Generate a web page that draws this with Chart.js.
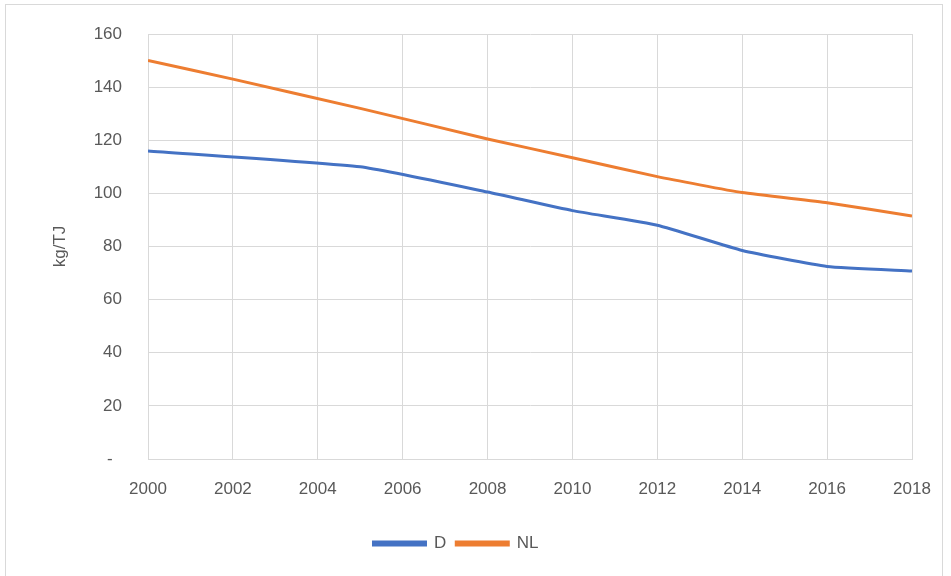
<!DOCTYPE html>
<html>
<head>
<meta charset="utf-8">
<script src="https://cdn.jsdelivr.net/npm/chart.js@4.4.1/dist/chart.umd.min.js"></script>
<style>
  html, body { margin: 0; padding: 0; background: #fff; }
  #wrap { position: relative; width: 951px; height: 576px; }
  #frame { position: absolute; left: 5px; top: 4px; width: 938px; height: 580px; border: 1px solid #d9d9d9; box-sizing: border-box; pointer-events: none; }
  canvas { position: absolute; left: 0; top: 0; }
</style>
</head>
<body>
<div id="wrap">
  <canvas id="chart" width="951" height="576"></canvas>
  <div id="frame"></div>
</div>
<script>
const yearsD = [2000, 2005, 2008, 2010, 2012, 2014, 2016, 2018];
const valuesD = [116, 110, 100.5, 93.5, 88, 78.5, 72.5, 70.8];

const yearsNL = [2000, 2002, 2005, 2008, 2010, 2012, 2014, 2016, 2018];
const valuesNL = [150, 143, 132, 120.5, 113.4, 106.3, 100.3, 96.5, 91.5];

const xTicks = [2000, 2002, 2004, 2006, 2008, 2010, 2012, 2014, 2016, 2018];
const yTicks = [0, 20, 40, 60, 80, 100, 120, 140, 160];

const FONT = 'Liberation Sans';
const TEXT = '#595959';
const GRID = '#d9d9d9';

const toPoints = (xs, ys) => xs.map((x, i) => ({ x: x, y: ys[i] }));

const ctx = document.getElementById('chart').getContext('2d');

new Chart(ctx, {
  type: 'line',
  data: {
    datasets: [
      {
        label: 'D',
        data: toPoints(yearsD, valuesD),
        borderColor: '#4472C4',
        backgroundColor: '#4472C4',
        borderWidth: 3,
        pointRadius: 0,
        tension: 0.15,
      },
      {
        label: 'NL',
        data: toPoints(yearsNL, valuesNL),
        borderColor: '#ED7D31',
        backgroundColor: '#ED7D31',
        borderWidth: 3,
        pointRadius: 0,
        tension: 0.15,
      },
    ],
  },
  options: {
    responsive: false,
    animation: false,
    layout: { padding: { left: 0, top: 34, right: 39, bottom: 14 } },
    scales: {
      x: {
        type: 'linear',
        min: 2000,
        max: 2018,
        afterBuildTicks: (scale) => { scale.ticks = xTicks.map(v => ({ value: v })); },
        afterFit: (scale) => { scale.height = 66; scale.paddingLeft = 0; scale.paddingRight = 0; },
        ticks: {
          padding: 20,
          color: TEXT,
          font: { family: FONT, size: 17 },
          callback: (v) => String(v),
        },
        grid: { color: GRID, lineWidth: 1, drawTicks: false },
        border: { color: GRID },
      },
      y: {
        min: 0,
        max: 160,
        afterBuildTicks: (scale) => { scale.ticks = yTicks.map(v => ({ value: v })); },
        afterFit: (scale) => { scale.width = 148; scale.paddingTop = 0; scale.paddingBottom = 0; },
        ticks: {
          padding: 26,
          color: TEXT,
          font: { family: FONT, size: 17 },
          callback: (v) => (v === 0 ? '-  ' : String(v)),
        },
        title: {
          display: true,
          text: 'kg/TJ',
          color: TEXT,
          font: { family: FONT, size: 17 },
          padding: { top: 50, bottom: 0 },
        },
        grid: { color: GRID, lineWidth: 1, drawTicks: false },
        border: { color: GRID },
      },
    },
    plugins: {
      legend: {
        position: 'bottom',
        labels: {
          boxWidth: 52,
          boxHeight: 3,
          padding: 10,
          color: TEXT,
          font: { family: FONT, size: 17 },
        },
      },
      tooltip: { enabled: false },
    },
  },
});
</script>
</body>
</html>
